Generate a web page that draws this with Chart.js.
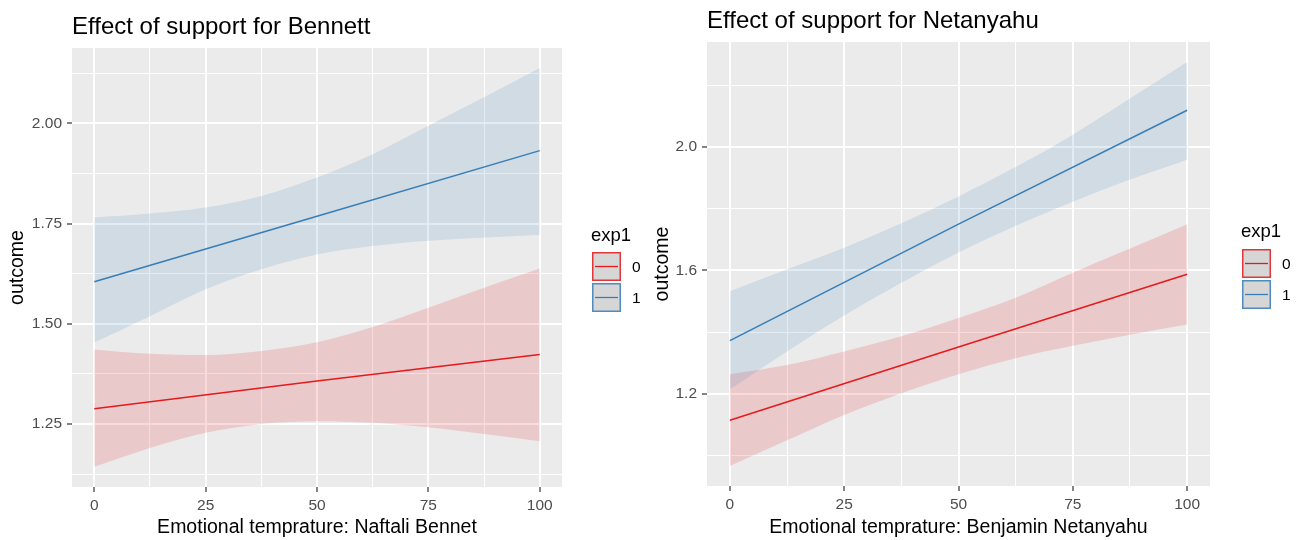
<!DOCTYPE html>
<html>
<head>
<meta charset="utf-8">
<script src="https://cdn.jsdelivr.net/npm/chart.js@4.4.0/dist/chart.umd.min.js"></script>
<style>
html, body { margin: 0; padding: 0; background: #ffffff; width: 1303px; height: 540px; overflow: hidden; }
.panel { position: absolute; top: 0; height: 540px; }
canvas { display: block; }
</style>
</head>
<body>
<div class="panel" style="left:0px;width:650px;"><canvas id="bennett" width="650" height="540" style="width:650px;height:540px"></canvas></div>
<div class="panel" style="left:650px;width:653px;"><canvas id="netanyahu" width="653" height="540" style="width:653px;height:540px"></canvas></div>
<script>
// ---------- data ----------
const groupLabels = ['0', '1'];
const legendTitle = 'exp1';

// x positions where the confidence bands were read (grid lines)
const bandX = [0, 12.5, 25, 37.5, 50, 62.5, 75, 87.5, 100];
// x positions where the fitted lines were read
const lineX = [0, 50, 100];

// x axis ticks
const xTicks = [0, 12.5, 25, 37.5, 50, 62.5, 75, 87.5, 100];
const xMajorTicks = [0, 25, 50, 75, 100];
const xTickLabels = ['0', '25', '50', '75', '100'];

// Panel 1: Bennett
const bennettTitle = 'Effect of support for Bennett';
const bennettXTitle = 'Emotional temprature: Naftali Bennet';
const bennettYTicks = [1.125, 1.25, 1.375, 1.5, 1.625, 1.75, 1.875, 2.0, 2.125];
const bennettYMajor = [1.25, 1.5, 1.75, 2.0];
const bennettYLabels = ['1.25', '1.50', '1.75', '2.00'];
const bennettUpper0 = [1.436, 1.425, 1.422, 1.432, 1.454, 1.492, 1.540, 1.590, 1.638];
const bennettLower0 = [1.143, 1.190, 1.228, 1.250, 1.257, 1.253, 1.242, 1.225, 1.207];
const bennettUpper1 = [1.765, 1.775, 1.790, 1.819, 1.865, 1.923, 1.994, 2.065, 2.138];
const bennettLower1 = [1.453, 1.519, 1.586, 1.636, 1.673, 1.694, 1.707, 1.715, 1.722];
const bennettLine0 = [1.288, 1.357, 1.423];
const bennettLine1 = [1.605, 1.768, 1.932];

// Panel 2: Netanyahu
const netanyahuTitle = 'Effect of support for Netanyahu';
const netanyahuXTitle = 'Emotional temprature: Benjamin Netanyahu';
const netanyahuYTicks = [1.0, 1.2, 1.4, 1.6, 1.8, 2.0, 2.2];
const netanyahuYMajor = [1.2, 1.6, 2.0];
const netanyahuYLabels = ['1.2', '1.6', '2.0'];
const netanyahuUpper0 = [1.264, 1.294, 1.338, 1.387, 1.446, 1.512, 1.593, 1.671, 1.750];
const netanyahuLower0 = [0.967, 1.050, 1.132, 1.202, 1.264, 1.316, 1.356, 1.392, 1.425];
const netanyahuUpper1 = [1.533, 1.604, 1.674, 1.753, 1.840, 1.935, 2.040, 2.157, 2.275];
const netanyahuLower1 = [1.215, 1.338, 1.454, 1.560, 1.658, 1.745, 1.823, 1.895, 1.959];
const netanyahuLine0 = [1.115, 1.352, 1.588];
const netanyahuLine1 = [1.373, 1.750, 2.119];

// ---------- styles ----------
const FONT = "'Liberation Sans', Arial, Helvetica, sans-serif";
const TICK_GREY = '#4D4D4D';
const PANEL_BG = '#EBEBEB';
const lineColors = ['#E41A1C', '#377EB8'];
const bandColors = ['rgba(228,26,28,0.16)', 'rgba(55,126,184,0.15)'];

function pts(xs, ys) { return xs.map((x, i) => ({ x: x, y: ys[i] })); }

function bandStyle(g) {
  return { borderWidth: 0, borderColor: 'rgba(0,0,0,0)', backgroundColor: bandColors[g],
           pointRadius: 0, cubicInterpolationMode: 'monotone' };
}
function lineStyle(g) {
  return { borderWidth: 1.5, borderColor: lineColors[g], backgroundColor: lineColors[g],
           pointRadius: 0, fill: false, tension: 0 };
}

const ggPlugin = {
  id: 'gg',
  beforeDraw(chart) {
    const { ctx, chartArea: a } = chart;
    ctx.save();
    ctx.fillStyle = PANEL_BG;
    ctx.fillRect(a.left, a.top, a.right - a.left, a.bottom - a.top);
    ctx.restore();
  },
  afterDraw(chart, args, o) {
    const ctx = chart.ctx;
    ctx.save();
    ctx.textAlign = 'left';
    ctx.textBaseline = 'alphabetic';
    ctx.fillStyle = '#000000';
    ctx.font = '18.5px ' + FONT;
    ctx.fillText(legendTitle, o.x - 1, o.titleBaseline);
    groupLabels.forEach((lab, i) => {
      const top = o.keyTop + i * o.keyStep;
      ctx.fillStyle = '#D6D6D6';
      ctx.fillRect(o.x, top, 29, 29);
      ctx.strokeStyle = lineColors[i];
      ctx.globalAlpha = 0.85;
      ctx.lineWidth = 1.5;
      ctx.strokeRect(o.x + 0.75, top + 0.75, 27.5, 27.5);
      ctx.globalAlpha = 1;
      ctx.lineWidth = 1.3;
      ctx.beginPath();
      ctx.moveTo(o.x + 3, top + 14.5);
      ctx.lineTo(o.x + 26, top + 14.5);
      ctx.stroke();
      ctx.fillStyle = '#000000';
      ctx.font = '15.5px ' + FONT;
      ctx.textBaseline = 'middle';
      ctx.fillText(lab, o.x + 40, top + 16);
      ctx.textBaseline = 'alphabetic';
    });
    ctx.restore();
  }
};

function makeChart(id, p) {
  const datasets = [
    Object.assign({ data: pts(bandX, p.upper0), fill: 1, order: 3 }, bandStyle(0)),
    Object.assign({ data: pts(bandX, p.lower0), fill: false, order: 3 }, bandStyle(0)),
    Object.assign({ data: pts(bandX, p.upper1), fill: 3, order: 2 }, bandStyle(1)),
    Object.assign({ data: pts(bandX, p.lower1), fill: false, order: 2 }, bandStyle(1)),
    Object.assign({ data: pts(lineX, p.line0), order: 1 }, lineStyle(0)),
    Object.assign({ data: pts(lineX, p.line1), order: 0 }, lineStyle(1))
  ];
  return new Chart(document.getElementById(id), {
    type: 'line',
    data: { datasets: datasets },
    plugins: [ggPlugin],
    options: {
      responsive: false,
      animation: false,
      devicePixelRatio: 1,
      layout: { padding: { left: 0, top: 0, right: p.padRight, bottom: 0 } },
      plugins: {
        legend: { display: false },
        tooltip: { enabled: false },
        title: {
          display: true, text: p.title, align: 'start', fullSize: false,
          color: '#000000', font: { family: FONT, size: 24, weight: 'normal' },
          padding: { top: p.titlePadTop, bottom: p.titlePadBottom }
        },
        gg: p.legend
      },
      scales: {
        x: {
          type: 'linear', min: -5, max: 105,
          afterBuildTicks: s => { s.ticks = xTicks.map(v => ({ value: v })); },
          afterFit: s => { s.height = p.xAxisHeight; },
          ticks: {
            autoSkip: false, maxRotation: 0, minRotation: 0, padding: 4,
            color: TICK_GREY, font: { family: FONT, size: 15.5 },
            callback: v => { const k = xMajorTicks.indexOf(v); return k >= 0 ? xTickLabels[k] : ''; }
          },
          grid: {
            color: '#FFFFFF',
            lineWidth: c => (c.tick && xMajorTicks.includes(c.tick.value)) ? 2 : 1,
            drawTicks: true, tickLength: 5, tickWidth: 1.2,
            tickColor: c => (c.tick && xMajorTicks.includes(c.tick.value)) ? '#333333' : 'rgba(0,0,0,0)'
          },
          border: { display: false },
          title: { display: true, text: p.xTitle, color: '#000000', font: { family: FONT, size: 19.5 }, padding: { top: 0, bottom: 1 } }
        },
        y: {
          type: 'linear', min: p.yMin, max: p.yMax,
          afterBuildTicks: s => { s.ticks = p.yTicks.map(v => ({ value: v })); },
          afterFit: s => { s.width = p.yAxisWidth; },
          ticks: {
            autoSkip: false, padding: 5,
            color: TICK_GREY, font: { family: FONT, size: 15.5 },
            callback: v => { const k = p.yMajor.indexOf(v); return k >= 0 ? p.yLabels[k] : ''; }
          },
          grid: {
            color: '#FFFFFF',
            lineWidth: c => (c.tick && p.yMajor.includes(c.tick.value)) ? 2 : 1,
            drawTicks: true, tickLength: 5, tickWidth: 1.2,
            tickColor: c => (c.tick && p.yMajor.includes(c.tick.value)) ? '#333333' : 'rgba(0,0,0,0)'
          },
          border: { display: false },
          title: { display: true, text: 'outcome', color: '#000000', font: { family: FONT, size: 19.5 }, padding: { top: p.yTitlePad, bottom: 0 } }
        }
      }
    }
  });
}

makeChart('bennett', {
  title: bennettTitle, xTitle: bennettXTitle,
  yTicks: bennettYTicks, yMajor: bennettYMajor, yLabels: bennettYLabels,
  yMin: 1.0927, yMax: 2.188,
  upper0: bennettUpper0, lower0: bennettLower0, upper1: bennettUpper1, lower1: bennettLower1,
  line0: bennettLine0, line1: bennettLine1,
  padRight: 88, xAxisHeight: 53, yAxisWidth: 72, yTitlePad: 5.5,
  titlePadTop: 13.0, titlePadBottom: 6.2,
  legend: { x: 592, titleBaseline: 241, keyTop: 252, keyStep: 31 }
});

makeChart('netanyahu', {
  title: netanyahuTitle, xTitle: netanyahuXTitle,
  yTicks: netanyahuYTicks, yMajor: netanyahuYMajor, yLabels: netanyahuYLabels,
  yMin: 0.902, yMax: 2.340,
  upper0: netanyahuUpper0, lower0: netanyahuLower0, upper1: netanyahuUpper1, lower1: netanyahuLower1,
  line0: netanyahuLine0, line1: netanyahuLine1,
  padRight: 93, xAxisHeight: 54, yAxisWidth: 57, yTitlePad: 0.5,
  titlePadTop: 7.3, titlePadBottom: 5.9,
  legend: { x: 592, titleBaseline: 237, keyTop: 249, keyStep: 31 }
});
</script>
</body>
</html>
